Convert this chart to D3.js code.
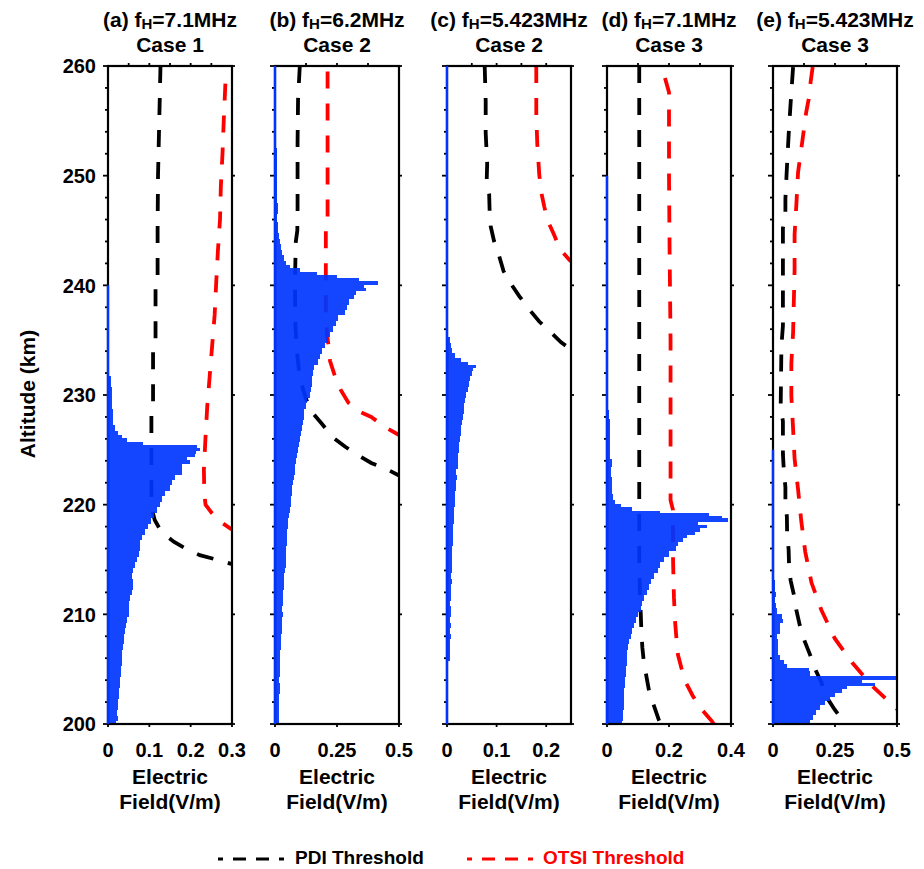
<!DOCTYPE html>
<html><head><meta charset="utf-8">
<script src="https://cdn.jsdelivr.net/npm/d3@7"></script>
<style>body{margin:0;background:#fff}text{font-family:"Liberation Sans",Arial,Helvetica,sans-serif;font-weight:bold}</style>
</head><body><svg id="chart" width="924" height="869"></svg>
<script>
// ---------- data ----------
const panelTags = ["(a)","(b)","(c)","(d)","(e)"];
const freqs = ["=7.1MHz","=6.2MHz","=5.423MHz","=7.1MHz","=5.423MHz"];
const cases = ["Case 1","Case 2","Case 2","Case 3","Case 3"];
const xMax = [0.3,0.5,0.25,0.4,0.5];
const xTicks = [[0,0.1,0.2,0.3],[0,0.25,0.5],[0,0.1,0.2],[0,0.2,0.4],[0,0.25,0.5]];
const xTickLabels = [["0","0.1","0.2","0.3"],["0","0.25","0.5"],["0","0.1","0.2"],["0","0.2","0.4"],["0","0.25","0.5"]];
const xTopTicks = [[0.05,0.1,0.15,0.2,0.25],[0.125,0.25,0.375],[0.05,0.1,0.15,0.2],[0.1,0.2,0.3],[0.125,0.25,0.375]];
const altTicks = [200,210,220,230,240,250,260];
const altTickLabels = ["200","210","220","230","240","250","260"];
const traceTop = [240,260,260,250,225];

// Electric field profiles (altitude km, field V/m)
const altA = [200,200.5,201,201.5,202,202.5,203,203.5,204,204.5,205,205.5,206,206.5,207,207.5,208,208.5,209,209.5,210,210.5,211,211.5,212,212.5,213,213.5,214,214.5,215,215.5,216,216.5,217,217.5,218,218.5,219,219.5,220,220.5,221,221.5,222,222.5,223,223.5,223.9,224.2,224.5,224.8,225,225.3,225.6,225.9,226.2,226.5,227,227.5,228,228.5,229,229.5,230,230.5,231,231.5,232];
const fieldA = [.020,.023,.022,.025,.024,.027,.026,.028,.030,.031,.032,.033,.035,.034,.036,.038,.039,.040,.043,.046,.050,.052,.051,.053,.057,.060,.060,.059,.060,.065,.070,.075,.077,.077,.082,.090,.097,.103,.112,.118,.125,.130,.138,.150,.154,.162,.178,.180,.198,.190,.210,.214,.223,.215,.085,.045,.033,.025,.017,.013,.012,.011,.010,.009,.010,.009,.008,.007,.003];

const altB = [200,200.5,201,201.5,202,202.5,203,203.5,204,204.5,205,205.5,206,206.5,207,207.5,208,208.5,209,209.5,210,210.5,211,211.5,212,212.5,213,213.5,214,214.5,215,215.5,216,216.5,217,217.5,218,218.5,219,219.5,220,220.5,221,221.5,222,222.5,223,223.5,224,224.5,225,225.5,226,226.5,227,227.5,228,228.5,229,229.5,230,230.5,231,231.5,232,232.5,233,233.5,234,234.5,235,235.5,236,236.5,237,237.5,238,238.5,239,239.3,239.6,239.9,240.2,240.5,240.8,241.1,241.4,241.7,242,242.5,243,243.5,244,244.5,245,245.5,246,247,248,249,250,251,252,253,254];
const fieldB = [.016,.017,.015,.016,.018,.017,.019,.019,.018,.020,.021,.020,.022,.021,.023,.024,.026,.028,.029,.030,.031,.030,.032,.033,.034,.035,.036,.037,.040,.043,.043,.044,.045,.047,.048,.050,.052,.054,.057,.060,.064,.066,.068,.070,.074,.077,.079,.082,.085,.088,.091,.095,.100,.103,.107,.111,.115,.118,.125,.131,.140,.145,.148,.151,.155,.158,.172,.180,.190,.200,.212,.222,.232,.246,.253,.284,.290,.300,.318,.327,.368,.360,.415,.340,.250,.170,.100,.060,.045,.035,.030,.026,.020,.016,.014,.012,.010,.012,.009,.010,.008,.009,.007,.006,.004];

const altC = [206,206.5,207,207.5,208,208.5,209,209.5,210,210.5,211,211.5,212,212.5,213,213.5,214,214.5,215,215.5,216,216.5,217,217.5,218,218.5,219,219.5,220,220.5,221,221.5,222,222.5,223,223.5,224,224.5,225,225.5,226,226.5,227,227.5,228,228.5,229,229.5,230,230.5,231,231.5,232,232.3,232.6,232.9,233.2,233.6,234,234.5,235];
const fieldC = [.006,.007,.007,.007,.008,.007,.008,.007,.008,.008,.007,.008,.009,.009,.010,.009,.010,.011,.010,.011,.011,.012,.012,.013,.012,.014,.014,.015,.016,.017,.016,.018,.018,.020,.019,.022,.022,.023,.024,.024,.027,.028,.029,.031,.032,.034,.035,.036,.038,.042,.045,.047,.050,.053,.058,.043,.028,.017,.010,.008,.006];

const altD = [200,200.5,201,201.5,202,202.5,203,203.5,204,204.5,205,205.5,206,206.5,207,207.5,208,208.5,209,209.5,210,210.5,211,211.5,212,212.5,213,213.5,214,214.5,215,215.5,216,216.4,216.8,217.1,217.4,217.7,218,218.3,218.6,218.9,219.1,219.3,219.6,219.9,220.2,220.7,221.3,222,223,223.8,224.5,225.5,226.5,227.5,228.2,229];
const fieldD = [.049,.050,.052,.054,.054,.055,.056,.057,.059,.060,.061,.063,.065,.066,.068,.072,.076,.081,.088,.094,.100,.110,.114,.119,.128,.136,.143,.150,.163,.172,.185,.200,.222,.229,.246,.258,.285,.300,.322,.292,.389,.370,.330,.172,.080,.045,.026,.020,.016,.015,.013,.016,.011,.010,.011,.010,.008,.003];

const altE = [200.1,200.6,201,201.5,201.9,202.3,202.6,203,203.3,203.6,203.8,204.2,204.6,205,205.3,205.6,206,206.5,207,207.5,208,208.5,209,209.4,209.8,210.3,210.8,211.3,211.8,212.3,212.8,213.5];
const fieldE = [.148,.160,.175,.190,.210,.230,.250,.280,.300,.410,.360,.505,.148,.145,.055,.045,.030,.022,.020,.022,.018,.027,.030,.040,.035,.015,.012,.010,.013,.008,.010,.004];

// PDI thresholds
const pdiAltA = [260,255,250,245,240.5,240.3,234.6,234.3,229,228.7,225,221,219.5,218.6,217.8,217.2,216.6,216.0,215.4,215.0,214.6,214.2];
const pdiA = [0.127,0.124,0.121,0.120,0.120,0.115,0.115,0.109,0.109,0.105,0.105,0.105,0.107,0.113,0.125,0.140,0.160,0.188,0.222,0.262,0.298,0.34];
const pdiAltB = [260,257,253,247,245,244,241,238,236,234,232,230.5,229.5,228.5,227.4,226.1,225.3,224.5,223.8,223.3,222.7,222.2];
const pdiB = [0.100,0.093,0.091,0.091,0.090,0.084,0.081,0.081,0.083,0.088,0.098,0.113,0.128,0.147,0.188,0.235,0.282,0.336,0.388,0.445,0.496,0.55];
const pdiAltC = [260,256.8,253.9,251.1,249.5,248.3,246.7,245.4,244.0,242.7,241.3,240.2,239.0,237.9,236.7,235.9,234.8,234.2,233.6];
const pdiC = [0.076,0.078,0.078,0.081,0.080,0.085,0.086,0.088,0.095,0.105,0.114,0.128,0.146,0.164,0.186,0.205,0.230,0.249,0.27];
const pdiAltD = [260,230,215,212,210,208.4,207,205.6,204.2,202.8,201.7,200.3,199.8];
const pdiD = [0.104,0.104,0.104,0.106,0.109,0.111,0.114,0.119,0.128,0.137,0.151,0.168,0.175];
const pdiAltE = [259.9,256.6,253.7,250.7,247.9,246.3,245.2,236.3,234.5,228.9,227.6,224.6,223.0,221.6,220.2,218.9,217.3,215.9,214.3,213.1,211.7,210.4,209.0,207.7,206.4,205.1,203.8,202.6,201.3,200.3,199.8];
const pdiE = [0.081,0.071,0.063,0.056,0.050,0.050,0.040,0.040,0.034,0.031,0.040,0.040,0.044,0.050,0.050,0.056,0.057,0.063,0.065,0.071,0.085,0.094,0.108,0.125,0.148,0.168,0.195,0.212,0.249,0.282,0.295];

// OTSI thresholds
const otsiAltA = [258.4,255,252,249,246,243.2,240.4,237.3,234.5,231.7,228.9,226.2,223.2,221.0,220.0,219.6,219.2,218.6,217.8,217.3];
const otsiA = [0.284,0.280,0.277,0.273,0.271,0.266,0.262,0.258,0.252,0.246,0.240,0.236,0.232,0.233,0.236,0.244,0.252,0.266,0.297,0.33];
const otsiAltB = [259.5,246.2,245.2,237.5,235.5,234.5,233.1,231.9,230.5,229.3,228.5,228.0,227.1,226.4,225.9];
const otsiB = [0.212,0.212,0.205,0.205,0.210,0.216,0.222,0.239,0.264,0.296,0.338,0.388,0.442,0.496,0.55];
const otsiAltC = [260,255.6,252.9,250.1,248.5,247.2,245.9,244.7,243.3,242.3,241.6];
const otsiC = [0.180,0.180,0.182,0.186,0.190,0.196,0.203,0.215,0.228,0.247,0.27];
const otsiAltD = [258.9,257.6,250,243,235,221,220.4,219.5,215,211.5,209.2,207.8,206.3,205.1,203.7,202.6,201.4,200.3,199.8];
const otsiD = [0.187,0.200,0.200,0.202,0.205,0.205,0.205,0.213,0.213,0.216,0.220,0.224,0.229,0.240,0.256,0.276,0.303,0.337,0.35];
const otsiAltE = [259.9,258.6,257.0,255.8,253.1,250.3,247.3,244.6,241.4,235.7,232.9,229.9,226.9,224.2,221.4,218.5,215.7,212.9,210.4,207.8,205.6,203.4,201.5,200.5];
const otsiE = [0.160,0.152,0.144,0.134,0.118,0.101,0.094,0.087,0.087,0.081,0.074,0.074,0.081,0.087,0.101,0.114,0.130,0.155,0.195,0.249,0.319,0.403,0.493,0.54];

const legendNames = ["PDI Threshold","OTSI Threshold"];

// ---------- layout ----------
const profiles = [[altA,fieldA],[altB,fieldB],[altC,fieldC],[altD,fieldD],[altE,fieldE]];
const pdis = [[pdiAltA,pdiA],[pdiAltB,pdiB],[pdiAltC,pdiC],[pdiAltD,pdiD],[pdiAltE,pdiE]];
const otsis = [[otsiAltA,otsiA],[otsiAltB,otsiB],[otsiAltC,otsiC],[otsiAltD,otsiD],[otsiAltE,otsiE]];
const panelLeft = [108,275,447,607,773];
const panelW = 124, plotTop = 66, plotBottom = 724;
const blue = "#0035ff";
const svg = d3.select("#chart");
const y = d3.scaleLinear().domain([200,260]).range([plotBottom, plotTop]);
const zip = (a,b) => a.slice(0, Math.min(a.length,b.length)).map((v,i)=>[v,b[i]]);

panelLeft.forEach((L, p) => {
  const x = d3.scaleLinear().domain([0, xMax[p]]).range([L, L + panelW]);
  const g = svg.append("g");
  const cx = L + panelW/2;
  svg.append("clipPath").attr("id","clip"+p).append("rect")
    .attr("x",L).attr("y",plotTop).attr("width",panelW).attr("height",plotBottom-plotTop);

  // thresholds (beneath the field bars)
  const line = d3.line().x(d=>x(d[1])).y(d=>y(d[0]));
  [[pdis[p],"#000"],[otsis[p],"#ff0000"]].forEach(([s,col])=>{
    g.append("path").attr("d", line(zip(s[0],s[1])))
      .attr("fill","none").attr("stroke",col).attr("stroke-width",3.8)
      .attr("stroke-dasharray","17,15").attr("clip-path","url(#clip"+p+")");
  });

  // field profile bars
  const alts = profiles[p][0], vals = profiles[p][1];
  const n = Math.min(alts.length, vals.length);
  for (let i=0;i<n;i++){
    const dUp = i<n-1 ? (alts[i+1]-alts[i])/2 : 0.25;
    const dDn = i>0 ? (alts[i]-alts[i-1])/2 : 0.25;
    const hi = Math.min(260, alts[i]+dUp), lo = Math.max(200, alts[i]-dDn);
    g.append("rect").attr("x", x(0)).attr("width", Math.max(0, x(vals[i])-x(0)))
      .attr("y", y(hi)).attr("height", y(lo)-y(hi))
      .attr("fill", blue).attr("fill-opacity",0.92).attr("shape-rendering","crispEdges");
  }

  // frame
  g.append("rect").attr("x",L).attr("y",plotTop).attr("width",panelW).attr("height",plotBottom-plotTop)
    .attr("fill","none").attr("stroke","#000").attr("stroke-width",2.2);
  // ticks
  for (let a=200;a<=260;a+=2){
    const len = a%10===0 ? 5 : 3;
    g.append("line").attr("x1",L-len).attr("x2",L).attr("y1",y(a)).attr("y2",y(a)).attr("stroke","#000").attr("stroke-width",1.8);
  }
  altTicks.forEach(a=>{
    g.append("line").attr("x1",L+panelW).attr("x2",L+panelW+3).attr("y1",y(a)).attr("y2",y(a)).attr("stroke","#000").attr("stroke-width",1.8);
  });
  xTicks[p].forEach(t=>{
    g.append("line").attr("x1",x(t)).attr("x2",x(t)).attr("y1",plotBottom).attr("y2",plotBottom+3).attr("stroke","#000").attr("stroke-width",1.8);
  });
  xTopTicks[p].forEach(t=>{
    g.append("line").attr("x1",x(t)).attr("x2",x(t)).attr("y1",plotTop-3).attr("y2",plotTop).attr("stroke","#000").attr("stroke-width",1.8);
  });
  // blue trace along the axis where the field is tiny but non-zero
  g.append("line").attr("x1",x(0)).attr("x2",x(0)).attr("y1",y(200)).attr("y2",y(traceTop[p]))
    .attr("stroke",blue).attr("stroke-width",2.4);

  // tick labels
  xTicks[p].forEach((t,i)=>{
    g.append("text").attr("x",x(t)).attr("y",757).attr("text-anchor","middle")
      .attr("font-size",20).text(xTickLabels[p][i]);
  });
  if (p===0){
    altTicks.forEach((a,i)=>{
      g.append("text").attr("x",96).attr("y",y(a)).attr("dy","0.36em").attr("text-anchor","end")
        .attr("font-size",20).text(altTickLabels[i]);
    });
  }
  // x-axis title
  g.append("text").attr("x",cx).attr("y",784).attr("text-anchor","middle").attr("font-size",21).text("Electric");
  g.append("text").attr("x",cx).attr("y",809).attr("text-anchor","middle").attr("font-size",21).text("Field(V/m)");
  // panel title
  const t1 = g.append("text").attr("x",cx).attr("y",27).attr("text-anchor","middle").attr("font-size",21);
  t1.append("tspan").text(panelTags[p]+" f");
  t1.append("tspan").attr("font-size",15).attr("dy",2).text("H");
  t1.append("tspan").attr("dy",-2).text(freqs[p]);
  g.append("text").attr("x",cx).attr("y",52).attr("text-anchor","middle").attr("font-size",21).text(cases[p]);
});

// y-axis title
svg.append("text").attr("transform","translate(35,394) rotate(-90)").attr("text-anchor","middle")
  .attr("font-size",21).text("Altitude (km)");

// legend
const lg = svg.append("g");
[[218,"#000",295],[467,"#ff0000",543]].forEach(([lx,col,tx],i)=>{
  lg.append("line").attr("x1",lx).attr("x2",lx+66).attr("y1",859).attr("y2",859)
    .attr("stroke",col).attr("stroke-width",3).attr("stroke-dasharray","13,10").attr("stroke-dashoffset",8);
  lg.append("text").attr("x",tx).attr("y",864).attr("font-size",19).attr("fill",col).text(legendNames[i]);
});
</script></body></html>
